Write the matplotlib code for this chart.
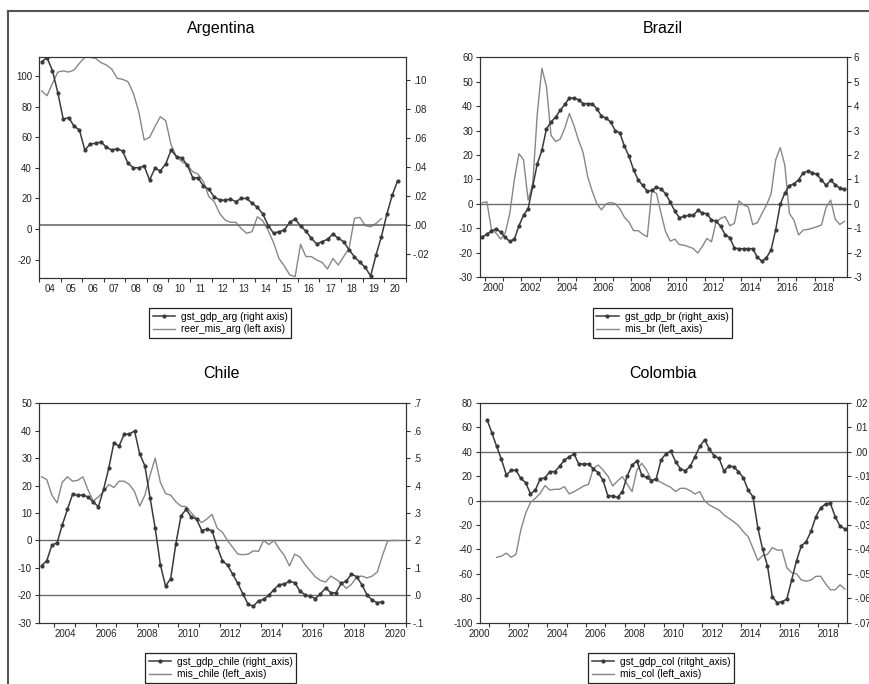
import numpy as np
import matplotlib
matplotlib.use("Agg")
import matplotlib.pyplot as plt
from matplotlib.lines import Line2D
from matplotlib.ticker import FuncFormatter

plt.rcParams['font.family'] = ['Liberation Sans', 'DejaVu Sans']

# ---- data (quarterly) ----
# Argentina: gst_gdp_arg (right axis) from 2004Q1, reer_mis_arg (left axis) from 2004Q1
gst_gdp_arg = [0.1125, 0.1152, 0.1062, 0.0909, 0.0727, 0.0739, 0.0680, 0.0653, 0.0515, 0.0557,
               0.0561, 0.0571, 0.0534, 0.0515, 0.0524, 0.0508, 0.0423, 0.0393, 0.0393, 0.0405,
               0.0308, 0.0389, 0.0372, 0.0419, 0.0515, 0.0469, 0.0460, 0.0411, 0.0325, 0.0322,
               0.0267, 0.0244, 0.0191, 0.0171, 0.0168, 0.0177, 0.0159, 0.0181, 0.0181, 0.0148,
               0.0120, 0.0074, -0.0006, -0.0059, -0.0048, -0.0037, 0.0017, 0.0039, -0.0009, -0.0045,
               -0.0094, -0.0133, -0.0117, -0.0101, -0.0065, -0.0094, -0.0117, -0.0174, -0.0221, -0.0260,
               -0.0295, -0.0354, -0.0209, -0.0082, 0.0072, 0.0203, 0.0302]
reer_mis_arg = [90.2, 87.1, 95.2, 102.6, 103.3, 102.6, 103.9, 108.3, 112.2, 112.2,
                111.5, 108.7, 107.2, 104.4, 98.5, 97.8, 96.3, 88.7, 76.7, 58.2,
                59.9, 66.9, 73.4, 70.8, 54.9, 47.3, 44.0, 41.8, 37.5, 35.9,
                30.9, 21.1, 17.9, 10.2, 5.9, 4.4, 4.4, 0.4, -2.8, -1.7,
                8.0, 5.4, -1.0, -9.0, -19.2, -24.2, -30.0, -31.0, -10.0, -18.0,
                -18.0, -20.3, -21.8, -26.1, -19.2, -23.5, -18.0, -12.6, 7.0, 7.6,
                2.2, 1.5, 3.7, 6.8]

# Brazil: both from 1999Q4
gst_gdp_br = [-1.35, -1.25, -1.12, -1.03, -1.15, -1.38, -1.54, -1.45, -0.90, -0.47,
              -0.20, 0.72, 1.64, 2.19, 3.07, 3.35, 3.55, 3.83, 4.07, 4.33,
              4.33, 4.26, 4.10, 4.10, 4.10, 3.89, 3.59, 3.51, 3.35, 3.00,
              2.91, 2.36, 1.95, 1.39, 0.98, 0.75, 0.51, 0.55, 0.68, 0.61,
              0.41, 0.07, -0.30, -0.57, -0.52, -0.48, -0.48, -0.27, -0.37, -0.41,
              -0.66, -0.71, -0.92, -1.27, -1.39, -1.82, -1.84, -1.84, -1.84, -1.84,
              -2.19, -2.35, -2.21, -1.89, -1.07, -0.03, 0.44, 0.74, 0.82, 0.98,
              1.27, 1.33, 1.28, 1.20, 0.98, 0.75, 0.96, 0.78, 0.64, 0.59]
mis_br = [0.4, 0.8, -10.5, -12.0, -14.5, -12.0, -4.0, 10.0, 20.5, 18.0,
          1.5, 8.0, 37.0, 55.5, 48.0, 28.0, 25.5, 26.5, 31.0, 37.0,
          32.0, 26.0, 21.0, 11.0, 5.0, 0.0, -2.5, 0.0, 0.5, 0.0,
          -2.0, -5.5, -7.5, -11.0, -11.0, -12.5, -13.5, 5.5, 4.2, -4.0,
          -11.5, -15.3, -14.5, -16.7, -17.0, -17.6, -18.3, -20.2, -17.5, -14.2,
          -15.6, -7.5, -6.0, -5.2, -9.0, -8.0, 1.2, -0.5, -1.2, -8.5,
          -7.8, -4.0, -0.5, 4.0, 18.0, 23.0, 15.8, -4.0, -6.7, -12.8,
          -10.8, -10.5, -10.0, -9.4, -8.7, -1.5, 1.5, -6.3, -8.5, -7.2]

# Chile: both from 2003Q2
gst_gdp_chile = [0.108, 0.126, 0.183, 0.191, 0.256, 0.313, 0.368, 0.365, 0.365, 0.359,
                 0.340, 0.323, 0.386, 0.463, 0.556, 0.544, 0.587, 0.588, 0.599, 0.516,
                 0.472, 0.356, 0.244, 0.112, 0.033, 0.061, 0.188, 0.290, 0.313, 0.285,
                 0.278, 0.236, 0.241, 0.236, 0.177, 0.126, 0.110, 0.077, 0.043, 0.004,
                 -0.033, -0.040, -0.020, -0.015, 0.000, 0.021, 0.039, 0.041, 0.051, 0.046,
                 0.016, 0.002, -0.004, -0.012, 0.005, 0.027, 0.009, 0.009, 0.043, 0.052,
                 0.077, 0.068, 0.039, 0.002, -0.018, -0.027, -0.024]
mis_chile = [23.2, 22.2, 16.5, 13.7, 21.2, 23.2, 21.6, 21.9, 23.2, 18.4,
             14.3, 15.9, 17.8, 20.4, 19.3, 21.6, 21.6, 20.4, 17.8, 12.5,
             16.5, 23.8, 30.0, 21.2, 17.1, 16.5, 14.1, 12.5, 12.3, 10.0,
             8.0, 6.5, 7.8, 9.5, 4.5, 3.0, 0.0, -2.5, -5.0, -5.2,
             -5.0, -3.8, -4.0, 0.0, -1.5, 0.0, -3.0, -5.5, -9.3, -5.0,
             -6.0, -8.8, -11.0, -13.3, -14.6, -15.2, -13.0, -14.2, -15.5, -17.5,
             -16.0, -13.3, -13.0, -13.7, -13.0, -11.5, -5.5, -0.2, 0.0, 0.0]

# Colombia: gst_gdp_col from 2000Q4, mis_col from 2001Q2
gst_gdp_col = [0.0132, 0.0079, 0.0022, -0.0031, -0.0095, -0.0076, -0.0075, -0.0109, -0.0126, -0.0172,
               -0.0157, -0.0111, -0.0106, -0.0081, -0.0081, -0.0060, -0.0034, -0.0021, -0.0008, -0.0051,
               -0.0049, -0.0050, -0.0070, -0.0085, -0.0117, -0.0180, -0.0181, -0.0187, -0.0163, -0.0099,
               -0.0054, -0.0038, -0.0095, -0.0105, -0.0118, -0.0110, -0.0033, -0.0008, 0.0003, -0.0040,
               -0.0070, -0.0077, -0.0060, -0.0020, 0.0022, 0.0049, 0.0011, -0.0017, -0.0027, -0.0079,
               -0.0058, -0.0061, -0.0081, -0.0106, -0.0157, -0.0184, -0.0311, -0.0400, -0.0467, -0.0594,
               -0.0618, -0.0614, -0.0603, -0.0525, -0.0446, -0.0385, -0.0368, -0.0325, -0.0266, -0.0229,
               -0.0214, -0.0211, -0.0266, -0.0304, -0.0316]
mis_col = [-46.4, -45.5, -43.0, -46.4, -44.0, -24.0, -10.4, -1.4, 1.9, 6.0,
           12.3, 8.7, 9.3, 9.3, 11.5, 5.5, 7.4, 9.6, 12.0, 13.4,
           26.5, 29.2, 25.1, 20.2, 12.0, 16.1, 19.7, 13.4, 7.4, 25.1,
           30.6, 25.1, 16.9, 16.9, 15.0, 12.8, 10.9, 7.4, 10.1, 10.1,
           8.2, 5.5, 7.4, -0.3, -3.6, -5.7, -7.7, -11.7, -14.5, -17.2,
           -20.5, -25.4, -29.5, -39.0, -49.0, -45.0, -44.0, -38.5, -40.5, -40.5,
           -55.0, -59.0, -60.0, -65.0, -66.0, -65.0, -62.0, -62.0, -68.0, -73.0,
           -73.0, -69.0, -72.5]

MARK_COLOR = '#3a3a3a'
LINE_COLOR = '#878787'
ZERO_COLOR = '#6c6c6c'
W, H = 869, 684


def quarters(year, q, n):
    """x positions (decimal years, centre of quarter) for n quarters from year/q"""
    return year + (q - 1) / 4 + 0.125 + 0.25 * np.arange(n)


def dotfmt(nd):
    # eviews style: .10, -.02, .0
    def f(v, pos):
        if abs(v) < 1e-12:
            v = 0.0
        s = f"{v:.{nd}f}"
        if s.startswith("-0."):
            s = "-" + s[2:]
        elif s.startswith("0."):
            s = s[1:]
        return s
    return FuncFormatter(f)


def px_rect(x0, y0, x1, y1):
    return [x0 / W, 1 - y1 / H, (x1 - x0) / W, (y1 - y0) / H]


def make_panel(fig, box, xlim, tick_years, label_years, labels, ylim_l, yt_l, ylim_r, yt_r, rfmt):
    ax = fig.add_axes(px_rect(*box))
    ax2 = ax.twinx()
    ax.set_xlim(*xlim)
    ax.set_ylim(*ylim_l)
    ax2.set_ylim(*ylim_r)
    for a in (ax, ax2):
        for sp in a.spines.values():
            sp.set_linewidth(0.8)
            sp.set_color('#333333')
    ax.set_xticks(tick_years)
    ax.set_xticklabels([])
    ax.set_xticks([y + 0.5 for y in label_years], minor=True)
    ax.set_xticklabels(labels, minor=True)
    ax.tick_params(axis='x', which='major', direction='out', length=3, width=0.8, color='#333333')
    ax.tick_params(axis='x', which='minor', length=0, pad=4.5, labelsize=7, labelcolor='#222222')
    ax.set_yticks(yt_l)
    ax.set_yticklabels([f"{v:g}" for v in yt_l])
    ax.tick_params(axis='y', direction='out', length=3, width=0.8, color='#333333', pad=2,
                   labelsize=7, labelcolor='#222222')
    ax2.set_yticks(yt_r)
    ax2.yaxis.set_major_formatter(rfmt)
    ax2.tick_params(axis='y', direction='out', length=3, width=0.8, color='#333333', pad=2,
                    labelsize=7, labelcolor='#222222')
    return ax, ax2


def add_legend(fig, corner, labels):
    handles = [Line2D([], [], color=MARK_COLOR, lw=1.1, marker='o', ms=2.0),
               Line2D([], [], color=LINE_COLOR, lw=1.0)]
    leg = fig.legend(handles, labels, loc='upper left',
                     bbox_to_anchor=(corner[0] / W, 1 - corner[1] / H),
                     frameon=True, fancybox=False, framealpha=1, edgecolor='#222222',
                     fontsize=7.3, borderpad=0.35, handlelength=2.2, handletextpad=0.6,
                     labelspacing=0.25, borderaxespad=0, numpoints=1)
    leg.get_frame().set_linewidth(0.9)


def draw(ax, ax2, lx, ly, mx, my):
    ax.plot(lx, ly, color=LINE_COLOR, lw=1.0)
    ax2.plot(mx, my, color=MARK_COLOR, lw=1.1, marker='o', ms=2.0)


fig = plt.figure(figsize=(W / 100, H / 100), dpi=100)

# outer frame (top and left edges)
fig.add_artist(Line2D([8 / W, 1], [1 - 10.5 / H] * 2, color='#555555', lw=1.5,
                      transform=fig.transFigure))
fig.add_artist(Line2D([8 / W] * 2, [0, 1 - 10.5 / H], color='#555555', lw=1.5,
                      transform=fig.transFigure))

# Argentina
yrs = list(range(2004, 2022))
ax, ax2 = make_panel(fig, (39, 56.7, 405.7, 277.7), (2004, 2021), yrs, yrs[:-1],
                     [f"{y % 100:02d}" for y in yrs[:-1]],
                     (-31.8, 112.6), [-20, 0, 20, 40, 60, 80, 100],
                     (-0.0366, 0.1159), [-0.02, 0.0, 0.02, 0.04, 0.06, 0.08, 0.10], dotfmt(2))
ax2.axhline(0, color=ZERO_COLOR, lw=1.2)
draw(ax, ax2, quarters(2004, 1, len(reer_mis_arg)), reer_mis_arg,
     quarters(2004, 1, len(gst_gdp_arg)), gst_gdp_arg)
fig.text(221.7 / W, 1 - 28.3 / H, "Argentina", ha='center', va='center', fontsize=11.5)
add_legend(fig, (149, 308.3), ["gst_gdp_arg (right axis)", "reer_mis_arg (left axis)"])

# Brazil
lab = list(range(2000, 2019, 2))
ax, ax2 = make_panel(fig, (480, 57.3, 846.7, 277), (1999.75, 2019.75), list(range(2000, 2020)),
                     lab, [str(y) for y in lab],
                     (-30, 60), list(range(-30, 61, 10)),
                     (-3, 6), list(range(-3, 7)), FuncFormatter(lambda v, p: f"{v:g}"))
ax.axhline(0, color=ZERO_COLOR, lw=1.0)
draw(ax, ax2, quarters(1999, 4, len(mis_br)), mis_br, quarters(1999, 4, len(gst_gdp_br)), gst_gdp_br)
fig.text(662.7 / W, 1 - 28.3 / H, "Brazil", ha='center', va='center', fontsize=11.5)
add_legend(fig, (592.7, 308.3), ["gst_gdp_br (right_axis)", "mis_br (left_axis)"])

# Chile
lab = list(range(2004, 2021, 2))
ax, ax2 = make_panel(fig, (39, 403.3, 405.7, 622.7), (2003.25, 2021), list(range(2004, 2022)),
                     lab, [str(y) for y in lab],
                     (-30, 50), list(range(-30, 51, 10)),
                     (-0.1, 0.7), list(np.round(np.arange(-1, 8) / 10, 1)), dotfmt(1))
ax.axhline(0, color=ZERO_COLOR, lw=1.0)
ax2.axhline(0, color=ZERO_COLOR, lw=1.0)
draw(ax, ax2, quarters(2003, 2, len(mis_chile)), mis_chile,
     quarters(2003, 2, len(gst_gdp_chile)), gst_gdp_chile)
fig.text(221.7 / W, 1 - 373.3 / H, "Chile", ha='center', va='center', fontsize=11.5)
add_legend(fig, (145, 653.3), ["gst_gdp_chile (right_axis)", "mis_chile (left_axis)"])

# Colombia
lab = list(range(2000, 2019, 2))
ax, ax2 = make_panel(fig, (479.7, 403, 847.3, 622.7), (2000.5, 2019.5), list(range(2001, 2020)),
                     lab, [str(y) for y in lab],
                     (-100, 80), list(range(-100, 81, 20)),
                     (-0.07, 0.02), list(np.round(np.arange(-7, 3) / 100, 2)), dotfmt(2))
ax.axhline(0, color=ZERO_COLOR, lw=1.0)
ax2.axhline(0, color=ZERO_COLOR, lw=1.0)
draw(ax, ax2, quarters(2001, 2, len(mis_col)), mis_col,
     quarters(2000, 4, len(gst_gdp_col)), gst_gdp_col)
fig.text(662.7 / W, 1 - 373.3 / H, "Colombia", ha='center', va='center', fontsize=11.5)
add_legend(fig, (588.3, 653.3), ["gst_gdp_col (ritght_axis)", "mis_col (left_axis)"])

fig.savefig("out.png", dpi=100)
